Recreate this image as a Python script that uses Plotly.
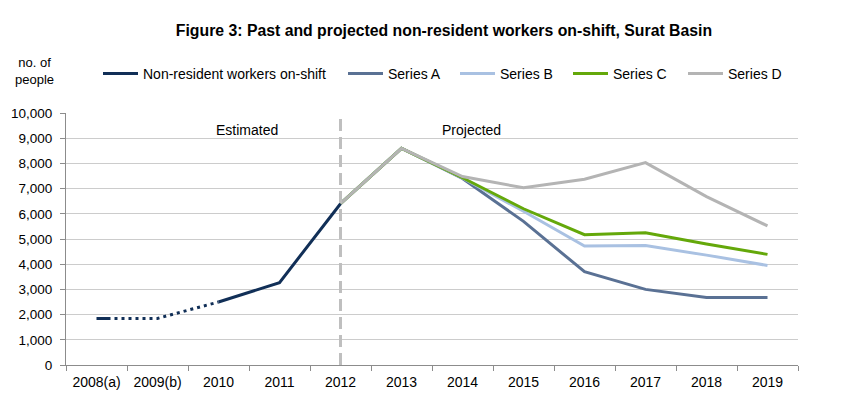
import plotly.graph_objects as go

categories = ["2008(a)", "2009(b)", "2010", "2011", "2012", "2013", "2014",
              "2015", "2016", "2017", "2018", "2019"]

# Past (estimated) non-resident workers on-shift
past_dotted_x = ["2008(a)", "2009(b)", "2010"]
past_dotted_y = [1850, 1850, 2500]
past_solid_x = ["2010", "2011", "2012"]
past_solid_y = [2500, 3270, 6400]

proj_x = ["2012", "2013", "2014", "2015", "2016", "2017", "2018", "2019"]
series_a = [6400, 8600, 7400, 5700, 3700, 3000, 2680, 2680]
series_b = [6400, 8600, 7420, 6100, 4720, 4740, 4360, 3950]
series_c = [6400, 8600, 7430, 6200, 5170, 5250, 4800, 4390]
series_d = [6400, 8600, 7480, 7030, 7370, 8030, 6680, 5520]

c_nr = "#112F57"
c_a = "#5A7194"
c_b = "#A9C1E2"
c_c = "#64A80A"
c_d = "#B4B4B4"

dot_pattern = "14px,4px," + ",".join(["3px,4px"] * 25)

fig = go.Figure()

fig.add_trace(go.Scatter(x=proj_x, y=series_a, mode="lines", name="Series A",
                         legend="legend2", line=dict(color=c_a, width=3)))
fig.add_trace(go.Scatter(x=proj_x, y=series_b, mode="lines", name="Series B",
                         legend="legend3", line=dict(color=c_b, width=3)))
fig.add_trace(go.Scatter(x=proj_x, y=series_c, mode="lines", name="Series C",
                         legend="legend4", line=dict(color=c_c, width=3)))
fig.add_trace(go.Scatter(x=proj_x, y=series_d, mode="lines", name="Series D",
                         legend="legend5", line=dict(color=c_d, width=3)))
fig.add_trace(go.Scatter(x=past_dotted_x, y=past_dotted_y, mode="lines",
                         name="Non-resident workers on-shift", showlegend=False,
                         line=dict(color=c_nr, width=3, dash=dot_pattern)))
fig.add_trace(go.Scatter(x=past_solid_x, y=past_solid_y, mode="lines",
                         name="Non-resident workers on-shift", legend="legend",
                         line=dict(color=c_nr, width=3)))

fig.add_shape(type="line", xref="x", yref="paper", x0=4, x1=4,
              y0=0, y1=1, layer="above",
              line=dict(color="#BFBFBF", width=3, dash="12px,6px"))

font_family = "Liberation Sans, Arial, sans-serif"

fig.add_annotation(text="Estimated", xref="paper", yref="paper", x=0.247, y=0.9325,
                   xanchor="center", yanchor="middle",
                   showarrow=False, font=dict(size=14, color="black"))
fig.add_annotation(text="Projected", xref="paper", yref="paper", x=0.554, y=0.9325,
                   xanchor="center", yanchor="middle",
                   showarrow=False, font=dict(size=14, color="black"))
fig.add_annotation(text="no. of<br>people", xref="paper", yref="paper", x=-0.043, y=1.167,
                   xanchor="center", yanchor="middle",
                   showarrow=False, font=dict(size=13, color="black"), align="center")

PLOT_L = 66
PLOT_W = 732


def leg(line_start_px):
    return dict(orientation="h", x=(line_start_px - 5 - PLOT_L) / PLOT_W, xanchor="left",
                y=1.155, yanchor="middle", font=dict(size=14, color="black"),
                itemwidth=35, bgcolor="rgba(0,0,0,0)", borderwidth=0)


fig.update_layout(
    width=865, height=403,
    margin=dict(l=58, r=75, t=105, b=46, autoexpand=False),
    paper_bgcolor="white", plot_bgcolor="white",
    font=dict(family=font_family, size=14, color="black"),
    title=dict(text="<b>Figure 3: Past and projected non-resident workers on-shift, Surat Basin</b>",
               x=0.504, xanchor="center", xref="container", y=0.945, yanchor="middle",
               font=dict(size=15.8, color="black")),
    legend=leg(103),
    legend2=leg(348),
    legend3=leg(460),
    legend4=leg(573),
    legend5=leg(688),
    showlegend=True,
)

fig.update_xaxes(type="category", categoryorder="array", categoryarray=categories,
                 tickson="boundaries", ticks="outside", ticklen=5, tickcolor="#8C8C8C",
                 showline=True, linecolor="#8C8C8C", linewidth=1, showgrid=False,
                 tickfont=dict(size=14), ticklabelstandoff=4, range=[-0.5, 11.5],
                 automargin=False)
fig.update_yaxes(range=[0, 10000], dtick=1000, tickformat=",", ticks="outside",
                 ticklen=5, tickcolor="#8C8C8C", showline=True, linecolor="#8C8C8C",
                 gridcolor="#CCCCCC", gridwidth=1, zeroline=False,
                 tickfont=dict(size=13.5), ticklabelstandoff=5, automargin=False)

fig.write_html("out.html")
